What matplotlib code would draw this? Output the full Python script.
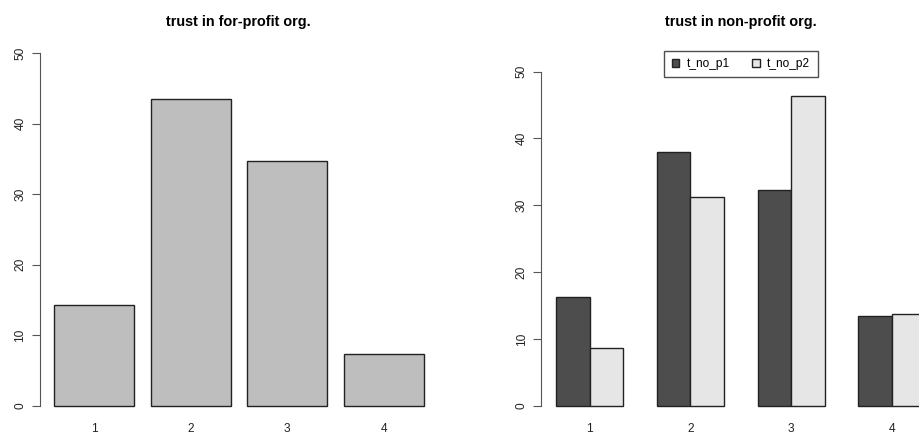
import matplotlib
matplotlib.use("Agg")
from matplotlib import pyplot as plt
import numpy as np

plt.rcParams['font.family'] = ['Liberation Sans', 'DejaVu Sans']

# data
categories = ["1", "2", "3", "4"]
forProfit = [14.3, 43.5, 34.7, 7.4]
noProfitP1 = [16.3, 38.0, 32.3, 13.5]
noProfitP2 = [8.6, 31.2, 46.3, 13.8]
seriesNames = ["t_no_p1", "t_no_p2"]
yTicks = [0, 10, 20, 30, 40, 50]

W, H = 920, 434
fig = plt.figure(figsize=(W / 100, H / 100), dpi=100)

AXIS_GRAY = "#555555"
TICK_SIZE = 8.6
TITLE_SIZE = 10.4


def styleAxis(ax):
    for side in ["top", "right", "bottom"]:
        ax.spines[side].set_visible(False)
    ax.spines["left"].set_bounds(0, 50)
    ax.spines["left"].set_color(AXIS_GRAY)
    ax.set_yticks(yTicks)
    ax.set_yticklabels([str(t) for t in yTicks], rotation=90, va="center")
    ax.tick_params(axis="y", direction="out", length=5.8, width=0.8,
                   color=AXIS_GRAY, labelsize=TICK_SIZE, pad=4, labelcolor="#222222")
    ax.tick_params(axis="x", length=0, labelsize=TICK_SIZE, pad=2, labelcolor="#222222")


def pxAxes(x0, x1, y0, y1):
    return fig.add_axes([x0 / W, 1 - y1 / H, (x1 - x0) / W, (y1 - y0) / H])


# left panel: single barplot, width 1, space 0.2
ax1 = pxAxes(40, 438.8, 39.2, 419.8)
idx = np.arange(len(categories))
left = 0.2 + 1.2 * idx
ax1.bar(left, forProfit, width=1, align="edge", color="#BEBEBE",
        edgecolor="#222222", linewidth=1)
ax1.set_xlim(0.026, 4.984)
ax1.set_ylim(-2, 52)
ax1.set_xticks(left + 0.5)
ax1.set_xticklabels(categories)
styleAxis(ax1)
fig.text(238 / W, 1 - 22 / H, "trust in for-profit org.",
         ha="center", va="center", fontsize=TITLE_SIZE, fontweight="bold")

# right panel: beside barplot, groups of 2 with one space
ax2 = pxAxes(541.5, 940.4, 39.2, 419.8)
g = 1 + 3 * idx
b1 = ax2.bar(g, noProfitP1, width=1, align="edge", color="#4D4D4D",
             edgecolor="#222222", linewidth=1, label=seriesNames[0])
b2 = ax2.bar(g + 1, noProfitP2, width=1, align="edge", color="#E6E6E6",
             edgecolor="#222222", linewidth=1, label=seriesNames[1])
ax2.set_xlim(0.57, 12.44)
ax2.set_ylim(-2.11, 54.86)
ax2.set_xticks(g + 1)
ax2.set_xticklabels(categories)
styleAxis(ax2)
fig.text(741 / W, 1 - 22 / H, "trust in non-profit org.",
         ha="center", va="center", fontsize=TITLE_SIZE, fontweight="bold")

leg = fig.legend(handles=[b1, b2], loc="upper center",
                 bbox_to_anchor=(741 / W, 1 - 50.7 / H), ncol=2,
                 fontsize=TICK_SIZE, frameon=True, fancybox=False,
                 borderpad=0.6, borderaxespad=0, handlelength=0.65,
                 handleheight=0.65, handletextpad=0.6, columnspacing=1.9)
leg.get_frame().set_edgecolor("#222222")
leg.get_frame().set_linewidth(1)

fig.savefig("out.png", dpi=100)
